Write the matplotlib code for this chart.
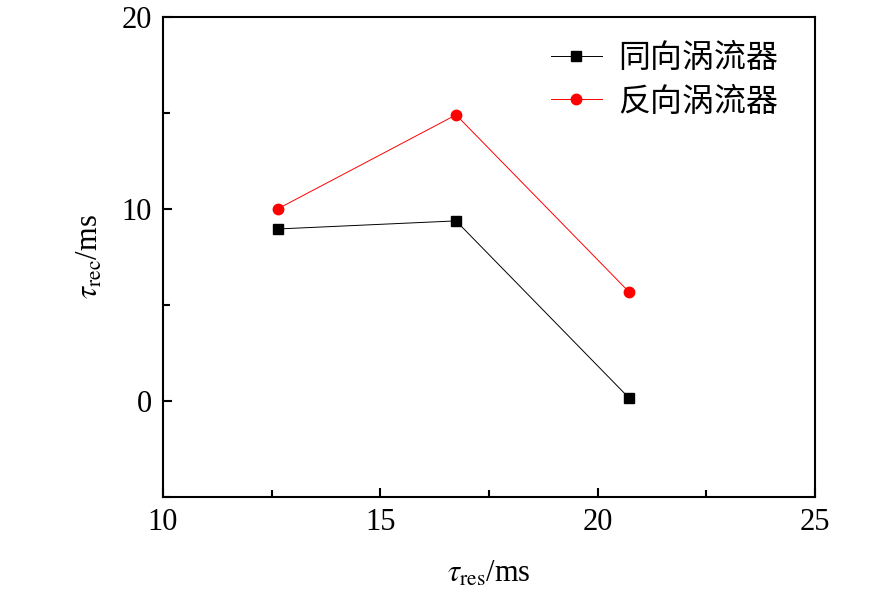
import numpy as np
import matplotlib.pyplot as plt
from matplotlib.ticker import MultipleLocator

plt.rcParams['font.family'] = ['Liberation Serif', 'Noto Sans CJK SC']
plt.rcParams['mathtext.fontset'] = 'stix'

# residence time (ms) and recirculation time (ms)
t_res = [12.65, 16.74, 20.72]
same_dir = [8.96, 9.38, 0.16]      # 同向涡流器
counter_dir = [10.02, 14.9, 5.68]  # 反向涡流器

fig = plt.figure(figsize=(8.86, 6.04), dpi=100)
ax = fig.add_axes([0.184, 0.177, 0.736, 0.795])

ax.plot(t_res, same_dir, '-', color='black', lw=0.7, marker='s', ms=7,
        label='同向涡流器')
ax.plot(t_res, counter_dir, '-', color='red', lw=0.7, marker='o', ms=7.5,
        label='反向涡流器')

ax.set_xlim(10, 25)
ax.set_ylim(-5, 20)
ax.xaxis.set_major_locator(MultipleLocator(5))
ax.xaxis.set_minor_locator(MultipleLocator(2.5))
ax.yaxis.set_major_locator(MultipleLocator(10))
ax.yaxis.set_minor_locator(MultipleLocator(5))
ax.tick_params(which='both', direction='in', width=1.5, labelsize=22, pad=8)
ax.tick_params(which='major', length=6.5)
ax.tick_params(which='minor', length=5)
for s in ax.spines.values():
    s.set_linewidth(1.5)

ax.set_xlabel(r'$\tau_{\rm res}$/ms', fontsize=22, labelpad=16)
ax.set_ylabel(r'$\tau_{\rm rec}$/ms', fontsize=22, labelpad=12)

leg = ax.legend(loc='upper right', bbox_to_anchor=(0.982, 1.0), frameon=False,
                prop={'family': ['Noto Sans CJK SC'], 'size': 23},
                handlelength=1.6, handletextpad=0.5, labelspacing=0.35,
                borderaxespad=0.5, borderpad=0.3)

plt.savefig('out.png', dpi=100)
